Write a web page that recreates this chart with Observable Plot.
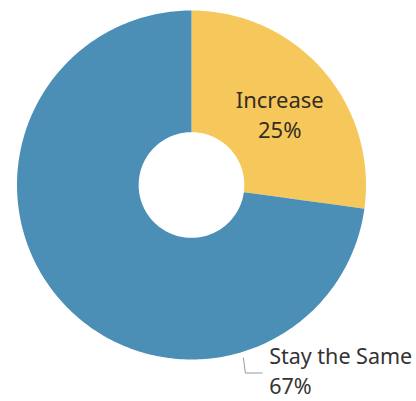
<!DOCTYPE html>
<html>
<head>
<meta charset="utf-8">
<script src="https://cdn.jsdelivr.net/npm/d3@7"></script>
<script src="https://cdn.jsdelivr.net/npm/@observablehq/plot@0.6"></script>
<style>
  html, body { margin: 0; padding: 0; background: #fff; }
  #chart svg { display: block; }
</style>
</head>
<body>
<div id="chart"></div>
<script>
// ---- data ----
const categories = ["Increase", "Stay the Same"];
const values = [25, 67];
const valueLabels = ["25%", "67%"];

// ---- style ----
const colors = ["#f6c85c", "#4b8fb6"];
const W = 416, H = 401;
const innerRatio = 53 / 175;

// polar helpers: angle measured clockwise from 12 o'clock, radius as fraction of outer radius
const toLonLat = (angle, r) => [180 - angle, 90 - 90 * r];

const total = d3.sum(values);
let acc = 0;
const slices = categories.map((c, i) => {
  const a0 = acc / total * 360;
  acc += values[i];
  const a1 = acc / total * 360;
  return {category: c, value: values[i], label: valueLabels[i], a0, a1};
});

const features = slices.map(s => {
  const n = Math.ceil(s.a1 - s.a0);
  const ring = [];
  for (let k = 0; k <= n; k++) ring.push(toLonLat(s.a0 + (s.a1 - s.a0) * k / n, 1));
  for (let k = n; k >= 0; k--) ring.push(toLonLat(s.a0 + (s.a1 - s.a0) * k / n, innerRatio));
  ring.push(ring[0]);
  let f = {type: "Feature", properties: s, geometry: {type: "Polygon", coordinates: [ring]}};
  if (d3.geoArea(f) > 2 * Math.PI) {
    f = {type: "Feature", properties: s, geometry: {type: "Polygon", coordinates: [ring.slice().reverse()]}};
  }
  return f;
});

const outerLine = {type: "LineString", coordinates: d3.range(0, 361, 2).map(a => toLonLat(a, 1))};

// inside label for first slice (mid angle, mid radius)
const inside = [slices[0]].map(s => {
  const [x, y] = toLonLat((s.a0 + s.a1) / 2 + 2, (1 + innerRatio) / 2);
  return {x, y, text: `${s.category}\n${s.label}`};
});

// outside label with leader for second slice
const leader = [[163.3, 1.035], [164.0, 1.121], [159.4, 1.151]].map(([a, r]) => {
  const [x, y] = toLonLat(a, r);
  return {x, y};
});
const outside = [slices[1]].map(s => {
  const p = leader[leader.length - 1];
  return {x: p.x, y: p.y, text: `${s.category}\n${s.label}`};
});

const chart = Plot.plot({
  width: W,
  height: H,
  marginLeft: 16,
  marginRight: 50,
  marginTop: 10,
  marginBottom: 42,
  projection: {type: "azimuthal-equidistant", rotate: [0, -90], domain: outerLine, clip: false},
  color: {domain: categories, range: colors},
  style: {fontFamily: "'Noto Sans', sans-serif", background: "#fff"},
  marks: [
    Plot.geo(features, {fill: d => d.properties.category}),
    Plot.line(leader, {x: "x", y: "y", stroke: "#9a9a9a", strokeWidth: 1}),
    Plot.text(inside, {x: "x", y: "y", text: "text", fontSize: 22, lineHeight: 1.36, fill: "#352d22", lineAnchor: "middle"}),
    Plot.text(outside, {x: "x", y: "y", text: "text", fontSize: 21.5, lineHeight: 1.38, fill: "#333", textAnchor: "start", lineAnchor: "top", dx: 7, dy: -30})
  ]
});
document.getElementById("chart").appendChild(chart);
</script>
</body>
</html>
